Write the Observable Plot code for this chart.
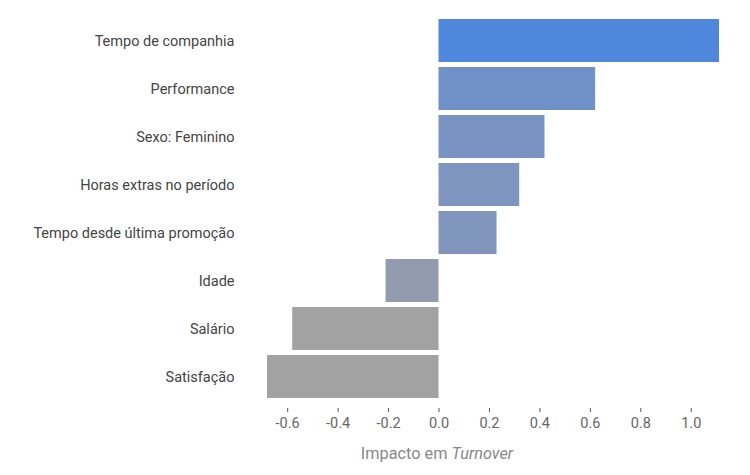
<!DOCTYPE html>
<html>
<head>
<meta charset="utf-8">
<script src="https://cdn.jsdelivr.net/npm/d3@7"></script>
<script src="https://cdn.jsdelivr.net/npm/@observablehq/plot@0.6"></script>
<style>
  html, body { margin: 0; padding: 0; background: #fff; }
  #chart { width: 750px; height: 475px; }
</style>
</head>
<body>
<div id="chart"></div>
<script>
const categories = [
  "Tempo de companhia",
  "Performance",
  "Sexo: Feminino",
  "Horas extras no período",
  "Tempo desde última promoção",
  "Idade",
  "Salário",
  "Satisfação"
];
const values = [1.112, 0.621, 0.42, 0.32, 0.23, -0.21, -0.58, -0.68];
const xTicks = [-0.6, -0.4, -0.2, 0.0, 0.2, 0.4, 0.6, 0.8, 1.0];
const axisLabel = "Impacto em ";
const axisLabelItalic = "Turnover";

const data = categories.map((c, i) => ({category: c, value: values[i]}));
const fmt = (d) => d3.format(".1f")(d).replace("\u2212", "-");

const chart = Plot.plot({
  width: 750,
  height: 475,
  marginLeft: 267,
  marginRight: 31,
  marginTop: 13.5,
  marginBottom: 67,
  style: {fontFamily: "Roboto, 'Liberation Sans', sans-serif", background: "#fff"},
  x: {domain: [d3.min(values), d3.max(values)], ticks: xTicks, tickFormat: fmt},
  y: {domain: categories, padding: 0.1, insetBottom: 3.3},
  color: {type: "linear", domain: [-0.58, 0.62, 1.112], range: ["#a2a2a2", "#7090c8", "#4f87dc"], clamp: true},
  marks: [
    Plot.barX(data, {y: "category", x: "value", fill: "value"}),
    Plot.axisY({tickSize: 0, tickPadding: 33, label: null, fontSize: 14.5, fill: "#444"}),
    Plot.axisX({ticks: xTicks, tickFormat: fmt, tickSize: 4, tickPadding: 5, label: null, fontSize: 14.5, color: "#666", stroke: "#555"})
  ]
});

const svg = d3.select(chart);
const t = svg.append("text")
  .attr("x", 437)
  .attr("y", 458.5)
  .attr("text-anchor", "middle")
  .attr("fill", "#888")
  .attr("font-size", 16.3)
  .attr("font-family", "Roboto, 'Liberation Sans', sans-serif");
t.append("tspan").text(axisLabel);
t.append("tspan").attr("font-style", "italic").text(axisLabelItalic);

document.getElementById("chart").appendChild(chart);
</script>
</body>
</html>
